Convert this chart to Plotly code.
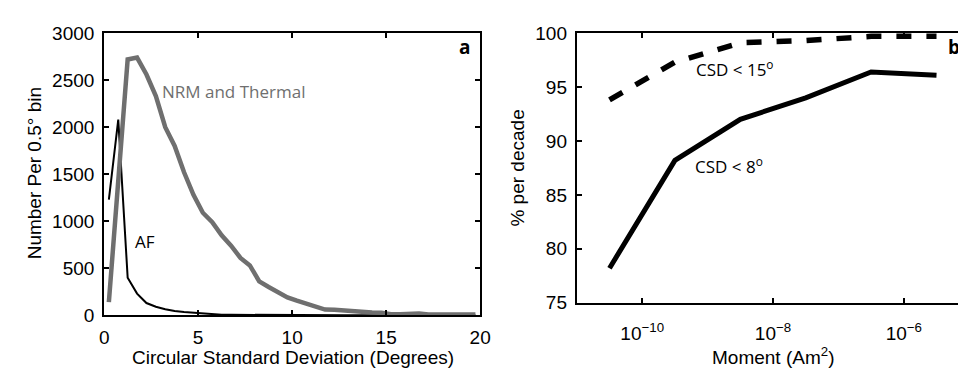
import numpy as np
import plotly.graph_objects as go

# ---- Panel a data ----
csd_bins = [0.25 + 0.5 * i for i in range(40)]
nrm_thermal = [140, 1450, 2720, 2740, 2560, 2330, 2000, 1800, 1520, 1280,
               1090, 990, 850, 740, 610, 530, 360, 300, 245, 190,
               155, 120, 90, 60, 58, 50, 40, 32, 30, 28,
               10, 12, 14, 18, 8, 6, 6, 8, 10, 8]
af = [1230, 2080, 400, 230, 130, 90, 65, 45, 35, 28,
      20, 8, 6, 5, 4, 4, 3, 3, 3, 2,
      2, 2, 2, 2, 1, 1, 1, 1, 1, 1,
      1, 1, 1, 1, 1, 1, 1, 1, 1, 1]

# ---- Panel b data ----
moment = [10**-10.5, 10**-9.5, 10**-8.5, 10**-7.5, 10**-6.5, 10**-5.5]
csd_lt8 = [78.2, 88.2, 92.0, 94.0, 96.4, 96.1]
csd_lt15 = [93.8, 97.3, 99.1, 99.3, 99.7, 99.7]

a_xticks = [0, 5, 10, 15, 20]
a_yticks = [0, 500, 1000, 1500, 2000, 2500, 3000]
b_yticks = [75, 80, 85, 90, 95, 100]
b_xticks = [1e-10, 1e-8, 1e-6]
b_xticktext = ["10<sup>\u221210</sup>", "10<sup>\u22128</sup>", "10<sup>\u22126</sup>"]

W, H = 966, 373
AR = "Liberation Sans, Arial, sans-serif"
tickfont = dict(family=AR, size=19, color="black")
labfont = "Open Sans, Noto Sans, sans-serif"

fig = go.Figure()
fig.add_trace(go.Scatter(x=csd_bins, y=af, mode="lines",
                         line=dict(color="black", width=2), xaxis="x", yaxis="y",
                         showlegend=False))
fig.add_trace(go.Scatter(x=csd_bins, y=nrm_thermal, mode="lines",
                         line=dict(color="#6f6f6f", width=4.5), xaxis="x", yaxis="y",
                         showlegend=False))
fig.add_trace(go.Scatter(x=moment, y=csd_lt15, mode="lines",
                         line=dict(color="black", width=5.5, dash="15px,15px"),
                         xaxis="x2", yaxis="y2", showlegend=False))
fig.add_trace(go.Scatter(x=moment, y=csd_lt8, mode="lines",
                         line=dict(color="black", width=5),
                         xaxis="x2", yaxis="y2", showlegend=False))

ax_common = dict(showline=True, linecolor="black", linewidth=2, ticks="inside",
                 ticklen=5, tickwidth=1.5, tickcolor="black", showgrid=False,
                 zeroline=False, tickfont=tickfont)

fig.update_layout(
    width=W, height=H, margin=dict(l=0, r=0, t=0, b=0),
    paper_bgcolor="white", plot_bgcolor="white",
    xaxis=dict(domain=[92.7 / W, 475 / W], range=[0, 20], tickvals=a_xticks,
               mirror="ticks", anchor="y", ticklabelstandoff=4, **ax_common),
    yaxis=dict(domain=[1 - 315 / H, 1 - 16 / H], range=[0, 3000], tickvals=a_yticks,
               mirror="ticks", anchor="x", ticklabelstandoff=4, **ax_common),
    xaxis2=dict(domain=[573.3 / W, 1.0], type="log", range=[-11, -5.095],
                tickvals=b_xticks, ticktext=b_xticktext, mirror="ticks", anchor="y2",
                ticklabelstandoff=12, **ax_common),
    yaxis2=dict(domain=[1 - 301.7 / H, 1 - 16 / H], range=[75, 100], tickvals=b_yticks,
                mirror=False, anchor="x2", ticklabelstandoff=4, **ax_common),
)

annots = [
    dict(text="Circular Standard Deviation (Degrees)", x=285 / W, y=1 - 360 / H,
         font=dict(family=AR, size=19, color="black")),
    dict(text="Number Per 0.5\u00b0 bin", x=22 / W, y=1 - 165 / H, textangle=-90,
         font=dict(family=AR, size=19, color="black")),
    dict(text="Moment (Am<sup>2</sup>)", x=773 / W, y=1 - 358 / H,
         font=dict(family=AR, size=19, color="black")),
    dict(text="% per decade", x=513 / W, y=1 - 159 / H, textangle=-90,
         font=dict(family=AR, size=19, color="black")),
    dict(text="NRM and Thermal", x=224 / W, y=1 - 78 / H,
         font=dict(family=labfont, size=17, color="#6f6f6f")),
    dict(text="AF", x=134 / W, y=1 - 237 / H,
         font=dict(family=labfont, size=17, color="black")),
    dict(text="<b>a</b>", x=459 / W, y=1 - 31 / H,
         font=dict(family=labfont, size=19, color="black")),
    dict(text="<b>b</b>", x=957 / W, y=1 - 31 / H,
         font=dict(family=labfont, size=19, color="black")),
    dict(text="CSD < 15<sup>o</sup>", x=734 / W, y=1 - 54 / H,
         font=dict(family=labfont, size=17, color="black")),
    dict(text="CSD < 8<sup>o</sup>", x=728 / W, y=1 - 156 / H,
         font=dict(family=labfont, size=17, color="black")),
]
for a in annots:
    fig.add_annotation(xref="paper", yref="paper", showarrow=False,
                       xanchor="center", yanchor="middle", **a)

fig.write_html("out.html")
